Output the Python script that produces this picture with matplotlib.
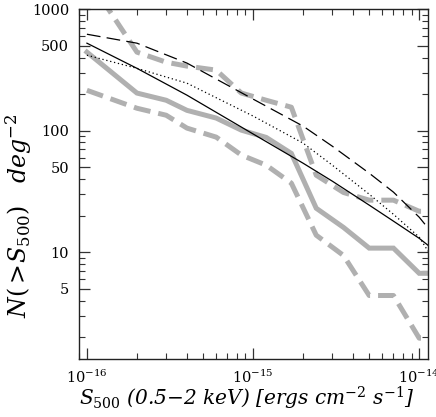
import numpy as np
import matplotlib
matplotlib.use('Agg')
import matplotlib.pyplot as plt
from matplotlib.ticker import LogLocator, FixedFormatter, NullFormatter, FixedLocator

plt.rcParams['font.family'] = 'DejaVu Serif'
plt.rcParams['mathtext.fontset'] = 'dejavuserif'

# observed counts (gray), bin fluxes in erg cm^-2 s^-1
s_obs = np.array([1, 2, 3, 4, 6, 8.5, 12, 17, 24, 35, 50, 70, 100, 130]) * 1e-16
n_obs_mid = [443, 204, 178, 147, 127, 101, 88, 65, 23, 16, 10.8, 10.8, 6.7, 6.7]
n_obs_low = [215, 153, 134, 105, 88.5, 63, 52, 37, 13.8, 9.4, 4.4, 4.4, 1.96, 1.96]
n_obs_high = [1850, 443, 366, 340, 315, 204, 178, 156, 43, 31, 26.8, 26.8, 21.7, 21.7]

# model curves (black)
s_mod = np.array([1, 2, 4, 10, 20, 30, 50, 70, 100, 113]) * 1e-16
n_mod_solid = [525, 326, 196, 94, 54, 38.4, 24.4, 18, 13, 11.4]
n_mod_dotted = [418, 326, 246, 132, 79, 52, 30, 20.5, 13.3, 10.2]
n_mod_dashed = [622, 525, 360, 182, 109, 74.5, 44.7, 31.2, 19.4, 15.8]

yticks = [5, 10, 50, 100, 500, 1000]
ytick_labels = ['5', '10', '50', '100', '500', '1000']

fig = plt.figure(figsize=(4.36, 4.17), dpi=100)
ax = fig.add_axes([0.181, 0.139, 0.801, 0.839])

gray = '#b0b0b0'
ax.plot(s_obs, n_obs_mid, color=gray, lw=3.6, solid_joinstyle='miter')
ax.plot(s_obs, n_obs_low, color=gray, lw=3.6, dashes=(3.4, 1.6), dash_capstyle='butt')
ax.plot(s_obs, n_obs_high, color=gray, lw=3.6, dashes=(3.4, 1.6), dash_capstyle='butt')

ax.plot(s_mod, n_mod_solid, color='black', lw=0.9)
ax.plot(s_mod, n_mod_dotted, color='black', lw=0.9, dashes=(1.0, 2.2))
ax.plot(s_mod, n_mod_dashed, color='black', lw=0.9, dashes=(11, 5))

ax.set_xscale('log')
ax.set_yscale('log')
ax.set_xlim(8.95e-17, 1.132e-14)
ax.set_ylim(1.32, 1000)

ax.yaxis.set_major_locator(FixedLocator(yticks))
ax.yaxis.set_major_formatter(FixedFormatter(ytick_labels))
ax.yaxis.set_minor_locator(LogLocator(base=10, subs=(2, 3, 4, 6, 7, 8, 9)))
ax.yaxis.set_minor_formatter(NullFormatter())
ax.xaxis.set_major_locator(LogLocator(base=10))
ax.xaxis.set_minor_locator(LogLocator(base=10, subs=np.arange(2, 10)))
ax.xaxis.set_minor_formatter(NullFormatter())

ax.tick_params(which='both', direction='in', top=True, right=True, labelsize=10.5, color='#333333')
ax.tick_params(which='major', length=8, width=0.9, pad=7)
ax.tick_params(which='minor', length=4.5, width=0.8)
for sp in ax.spines.values():
    sp.set_linewidth(1.0)
    sp.set_color('#222222')

ax.set_xlabel(r'$S_{\mathit{500}}$ (0.5$-$2 keV) [ergs cm$^{-2}$ s$^{-1}$]',
              fontsize=14.5, style='italic')
ax.xaxis.set_label_coords(0.48, -0.075)
ax.set_ylabel(r'$N(>\!S_{\mathit{500}})$   deg$^{-2}$', fontsize=17, style='italic')
ax.yaxis.set_label_coords(-0.13, 0.41)

fig.savefig('out.png', dpi=100)
